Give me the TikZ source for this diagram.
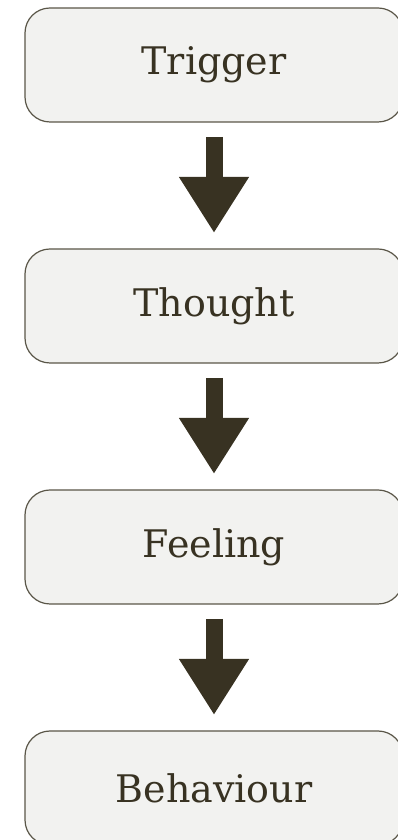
\documentclass[tikz,border=0pt]{standalone}
\usepackage{fontspec}
\setmainfont{DejaVu Serif}
\usetikzlibrary{arrows.meta, positioning}
\definecolor{Paper}{RGB}{242, 242, 240}
\definecolor{Edge}{RGB}{90, 86, 72}
\definecolor{Umber}{RGB}{56, 50, 34}
\tikzstyle{stage} = [rectangle, rounded corners=25pt, minimum width=378pt, minimum height=114pt, outer sep=0pt, text centered, draw=Edge, fill=Paper, line width=1.2pt, text=Umber, font=\fontsize{38}{46}\selectfont]
\tikzstyle{fatarrow} = [-{Triangle[length=56pt, width=66pt]}, line width=17pt, Umber, shorten <=15pt, shorten >=16pt]

\begin{document}
\begin{tikzpicture}[x=1pt, y=1pt, node distance=127pt]
\useasboundingbox (0,0) rectangle (398,840);

% Stage boxes
\node (trigger) [stage] at (214,775) {Trigger};
\node (thought) [stage, below=of trigger] {Thought};
\node (feeling) [stage, below=of thought] {Feeling};
\node (behaviour) [stage, below=of feeling] {Behaviour};

% Arrows
\draw [fatarrow] (trigger) -- (thought);
\draw [fatarrow] (thought) -- (feeling);
\draw [fatarrow] (feeling) -- (behaviour);

\end{tikzpicture}
\end{document}
